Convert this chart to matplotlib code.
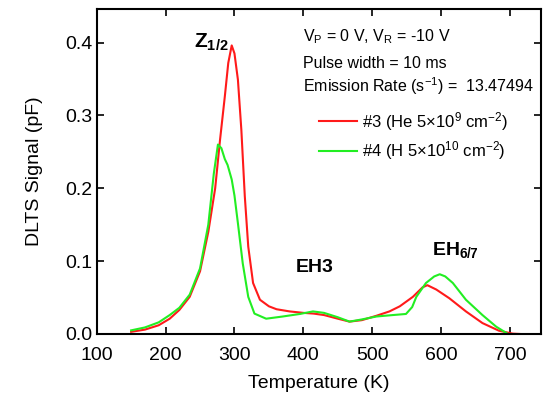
import matplotlib
matplotlib.use("Agg")
import matplotlib.pyplot as plt

plt.rcParams['font.family'] = ['Liberation Sans', 'DejaVu Sans']
plt.rcParams['mathtext.fontset'] = 'custom'
plt.rcParams['mathtext.rm'] = 'Liberation Sans'
plt.rcParams['mathtext.it'] = 'Liberation Sans:italic'
plt.rcParams['mathtext.bf'] = 'Liberation Sans:bold'

# Data
temp_he = [150, 170, 190, 206, 220, 235, 250, 262, 272, 279, 286, 291, 296, 300, 305,
           310, 315, 320, 327, 337, 350, 361, 380, 400, 415, 430, 450, 467, 485, 506,
           525, 540, 559, 573, 580, 593, 612, 636, 660, 684, 704, 715]
dlts_he = [0.003, 0.006, 0.012, 0.021, 0.033, 0.051, 0.086, 0.14, 0.20, 0.266, 0.326, 0.372,
           0.396, 0.385, 0.349, 0.28, 0.189, 0.12, 0.07, 0.047, 0.038, 0.034, 0.031, 0.029,
           0.028, 0.026, 0.021, 0.017, 0.019, 0.025, 0.031, 0.038, 0.051, 0.064, 0.067,
           0.061, 0.049, 0.031, 0.015, 0.0045, 0.0005, 0.0]

temp_h = [150, 170, 190, 206, 220, 235, 250, 262, 270, 276, 281, 286, 290, 296, 300,
          305, 312, 320, 329, 346, 370, 395, 414, 430, 450, 467, 485, 506, 530, 549,
          558, 564, 578, 590, 598, 606, 617, 636, 660, 680, 692, 697]
dlts_h = [0.005, 0.009, 0.016, 0.026, 0.036, 0.054, 0.09, 0.15, 0.22, 0.26, 0.255, 0.24,
          0.232, 0.212, 0.19, 0.152, 0.097, 0.051, 0.028, 0.021, 0.024, 0.0275, 0.031,
          0.029, 0.023, 0.017, 0.02, 0.024, 0.026, 0.0275, 0.037, 0.051, 0.070, 0.079,
          0.082, 0.079, 0.07, 0.047, 0.026, 0.010, 0.003, 0.0]

x_ticks = [100, 200, 300, 400, 500, 600, 700]
y_ticks = [0.0, 0.1, 0.2, 0.3, 0.4]

fig = plt.figure(figsize=(5.43, 4.01), dpi=100)
ax = fig.add_axes([96.7 / 543, 1 - 334 / 401, (541 - 96.7) / 543, (334 - 9) / 401])

ax.plot(temp_he, dlts_he, color='#ff1a1a', lw=1.5, label=r'#3 (He 5×10$^{9}$ cm$^{-2}$)')
ax.plot(temp_h, dlts_h, color='#22ee22', lw=1.5, label=r'#4 (H 5×10$^{10}$ cm$^{-2}$)')

ax.set_xlim(100, 745)
ax.set_ylim(0, 0.446)
ax.set_xticks(x_ticks)
ax.set_yticks(y_ticks)
ax.set_yticklabels([f'{v:.1f}' for v in y_ticks])
ax.tick_params(direction='in', length=5, width=1.2, labelsize=14, top=True, right=True)
ax.tick_params(axis='x', pad=9)
ax.tick_params(axis='y', pad=3)
for s in ax.spines.values():
    s.set_linewidth(1.5)

ax.set_xlabel('Temperature (K)', fontsize=14, labelpad=8)
ax.set_ylabel('DLTS Signal (pF)', fontsize=14, labelpad=16)

def axf(px, py):
    return ((px - 96.7) / (541 - 96.7), (334 - py) / (334 - 9))

tk = dict(transform=ax.transAxes, fontsize=11.5, va='center', ha='left')
ax.text(*axf(303, 37), r'V$_\mathregular{P}$ = 0 V, V$_\mathregular{R}$ = -10 V', **tk)
ax.text(*axf(303, 63), 'Pulse width = 10 ms', **tk)
ax.text(*axf(303, 86), r'Emission Rate (s$^{\mathregular{-1}}$) =  13.47494', **tk)

ax.text(*axf(194, 42), r'$\mathbf{Z_{1/2}}$', transform=ax.transAxes, fontsize=15,
        va='center', ha='left')
ax.text(*axf(296, 268), 'EH3', transform=ax.transAxes, fontsize=14, fontweight='bold',
        va='center', ha='left')
ax.text(*axf(432, 250), r'$\mathbf{EH_{6/7}}$', transform=ax.transAxes, fontsize=14,
        va='center', ha='left')

leg = ax.legend(loc='upper left', bbox_to_anchor=axf(319, 110), frameon=False,
                fontsize=12, handlelength=2.3, handletextpad=0.3, labelspacing=0.4,
                borderpad=0, borderaxespad=0)

fig.savefig('out.png', dpi=100)
